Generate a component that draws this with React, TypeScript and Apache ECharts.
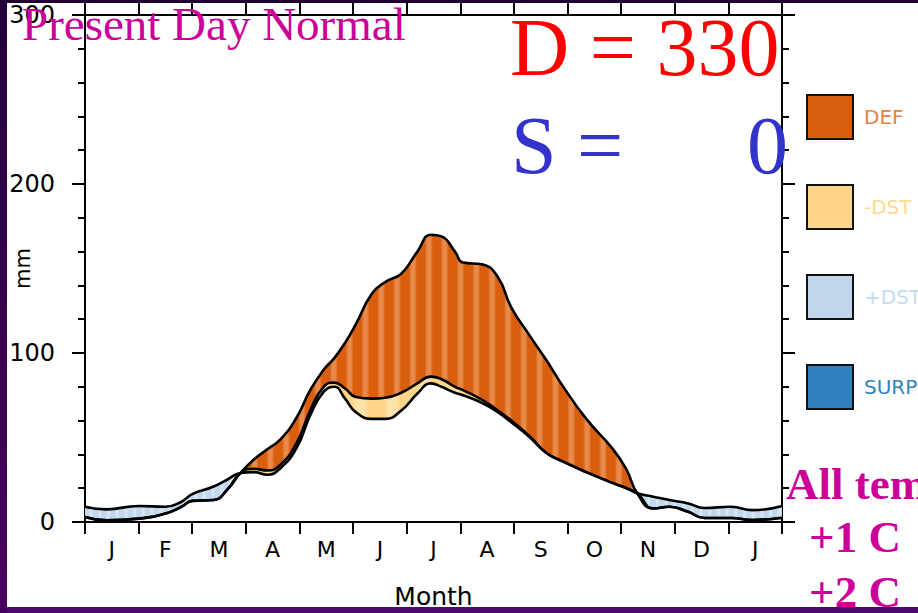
import React, { useEffect, useRef } from "react";
import * as echarts from "echarts";

// Month labels (13 months: Jan .. Jan)
const monthLabels = ["J", "F", "M", "A", "M", "J", "J", "A", "S", "O", "N", "D", "J"];

// Position along the x axis, in months from 1 January
const monthPos = [
  0, 0.4, 1, 1.5, 1.8, 2, 2.4, 2.65, 2.9,
  3.15, 3.4, 3.65, 3.95, 4.2, 4.45, 4.65, 4.85, 5.05,
  5.35, 5.6, 5.9, 6.2, 6.45, 6.65, 6.9, 7.05, 7.4,
  7.7, 7.95, 8.3, 8.6, 8.9, 9.35, 9.85, 10.1, 10.3,
  10.6, 10.9, 11.25, 11.55, 12.05, 12.45, 13,
];

// Precipitation (mm)
const precip = [
  9, 7.5, 9.5, 9, 12, 16.5, 21, 25, 29,
  29.5, 28, 32, 44, 63, 77, 80, 73, 65,
  61, 61, 66, 76, 82, 80, 76.5, 75, 70.5,
  65, 59, 50, 41, 36, 29.5, 23, 20, 17,
  15, 13, 11, 8.3, 9, 7, 9.5,
];

// Potential evapotranspiration (mm)
const pet = [
  3, 1, 2, 5, 9, 12.5, 13, 19, 29,
  37, 43, 49, 62, 78, 90, 97, 106, 117,
  135, 142, 147, 160, 170, 169, 160, 153.5, 152.5,
  145, 127, 110, 96, 81, 61, 43, 31, 17,
  8, 9, 6, 2.4, 2.4, 1.2, 2.5,
];

// Actual evapotranspiration (mm)
const aet = [
  3, 1, 2, 5, 9, 12.5, 13, 19, 29,
  31.5, 30.5, 34, 47, 66, 80, 82.5, 79, 74,
  73, 73.5, 76.5, 82, 86, 84.5, 80, 78, 72.4,
  66, 60, 50.5, 41, 36, 29.5, 23, 20, 17,
  8, 9, 6, 2.4, 2.4, 1.2, 2.5,
];

const legendNames = ["DEF", "-DST", "+DST", "SURP"];

function stripeStops(base: string, light: string, n: number) {
  const stops: { offset: number; color: string }[] = [];
  for (let i = 0; i < n; i++) {
    const a = i / n;
    const w = 1 / n;
    stops.push({ offset: a, color: base });
    stops.push({ offset: a + w * 0.45, color: base });
    stops.push({ offset: a + w * 0.6, color: light });
    stops.push({ offset: a + w * 0.8, color: light });
    stops.push({ offset: a + w * 0.95, color: base });
  }
  stops.push({ offset: 1, color: base });
  return stops;
}

export default function App() {
  const ref = useRef<HTMLDivElement>(null);

  useEffect(() => {
    if (!ref.current) return;
    const chart = echarts.init(ref.current, null, { renderer: "svg" });

    // data items are [value, month] so that stacking happens on the value (y) dimension
    const baseData = monthPos.map((t, i) => [Math.min(precip[i], pet[i]), t]);
    const yellowData = monthPos.map((t, i) => [Math.max(aet[i] - precip[i], 0), t]);
    const orangeData = monthPos.map((t, i) => [Math.max(pet[i] - aet[i], 0), t]);
    const blueData = monthPos.map((t, i) => [Math.max(precip[i] - pet[i], 0), t]);

    const common = {
      type: "line",
      smooth: 0.5,
      showSymbol: false,
      symbol: "none",
      silent: true,
      xAxisIndex: 0,
      yAxisIndex: 0,
      encode: { x: 1, y: 0 },
    };
    const hidden = { width: 0, opacity: 0 };
    const outline = { color: "#000", width: 2.6 };

    const axisLineStyle = { color: "#000", width: 2 };
    const sans = "DejaVu Sans";

    chart.setOption({
      animation: false,
      backgroundColor: "#fff",
      grid: { left: 85, right: 136, top: 15, bottom: 91, containLabel: false, outerBoundsMode: "none" },
      xAxis: [
        {
          type: "value",
          min: 0,
          max: 13,
          interval: 1,
          position: "bottom",
          axisLine: { show: true, onZero: false, lineStyle: axisLineStyle },
          axisTick: { show: true, length: 12, lineStyle: { color: "#000", width: 2 } },
          axisLabel: { show: false },
          splitLine: { show: false },
        },
        {
          type: "category",
          data: monthLabels,
          position: "bottom",
          boundaryGap: true,
          axisLine: { show: false, onZero: false },
          axisTick: { show: false },
          axisLabel: { color: "#000", fontSize: 22, fontFamily: sans, margin: 16 },
          splitLine: { show: false },
          name: "Month",
          nameLocation: "middle",
          nameGap: 62,
          nameMoveOverlap: false,
          nameTextStyle: { color: "#000", fontSize: 25, fontFamily: sans },
        },
        {
          type: "value",
          min: 0,
          max: 13,
          interval: 1,
          position: "top",
          axisLine: { show: true, onZero: false, lineStyle: axisLineStyle },
          axisTick: { show: true, length: 12, lineStyle: { color: "#000", width: 2 } },
          axisLabel: { show: false },
          splitLine: { show: false },
        },
      ],
      yAxis: [
        {
          type: "value",
          min: 0,
          max: 300,
          interval: 100,
          position: "left",
          axisLine: { show: true, onZero: false, lineStyle: axisLineStyle },
          axisTick: { show: true, length: 13, lineStyle: { color: "#000", width: 2 } },
          minorTick: { show: true, splitNumber: 5, length: 7, lineStyle: { color: "#000", width: 2 } },
          axisLabel: { color: "#000", fontSize: 24, fontFamily: sans, margin: 30 },
          splitLine: { show: false },
          minorSplitLine: { show: false },
          name: "mm",
          nameLocation: "middle",
          nameGap: 52,
          nameRotate: 90,
          nameMoveOverlap: false,
          nameTextStyle: { color: "#000", fontSize: 21, fontFamily: sans },
        },
        {
          type: "value",
          min: 0,
          max: 300,
          interval: 100,
          position: "right",
          axisLine: { show: true, onZero: false, lineStyle: axisLineStyle },
          axisTick: { show: true, length: 13, lineStyle: { color: "#000", width: 2 } },
          minorTick: { show: true, splitNumber: 5, length: 7, lineStyle: { color: "#000", width: 2 } },
          axisLabel: { show: false },
          splitLine: { show: false },
          minorSplitLine: { show: false },
        },
      ],
      legend: {
        orient: "vertical",
        left: 806,
        top: 94,
        padding: 0,
        itemWidth: 46,
        itemHeight: 44,
        itemGap: 44,
        icon: "rect",
        selectedMode: false,
        itemStyle: { borderColor: "#111", borderWidth: 2 },
        textStyle: { fontSize: 20, fontFamily: sans, padding: [0, 0, 0, 6] },
        data: [
          { name: legendNames[0], textStyle: { color: "#e6823e" } },
          { name: legendNames[1], textStyle: { color: "#fed98e" } },
          { name: legendNames[2], textStyle: { color: "#c6dbef" } },
          { name: legendNames[3], textStyle: { color: "#3182bd" } },
        ],
      },
      series: [
        { ...common, name: "base", stack: "wb", data: baseData, lineStyle: hidden },
        {
          ...common,
          name: legendNames[1],
          stack: "wb",
          data: yellowData,
          color: "#fdd68c",
          lineStyle: hidden,
          areaStyle: {
            opacity: 1,
            color: new echarts.graphic.LinearGradient(0, 0, 1, 0, stripeStops("#fdd68c", "#ffe3ab", 22)),
          },
        },
        {
          ...common,
          name: legendNames[0],
          stack: "wb",
          data: orangeData,
          color: "#d95f0e",
          lineStyle: hidden,
          areaStyle: {
            opacity: 1,
            color: new echarts.graphic.LinearGradient(0, 0, 1, 0, stripeStops("#d95f0e", "#e88a4b", 44)),
          },
        },
        {
          ...common,
          name: legendNames[2],
          stack: "wb",
          data: blueData,
          color: "#c0d7ec",
          lineStyle: hidden,
          areaStyle: {
            opacity: 1,
            color: new echarts.graphic.LinearGradient(0, 0, 1, 0, stripeStops("#c0d7ec", "#d6e6f4", 80)),
          },
        },
        { ...common, name: legendNames[3], data: [], color: "#2f80bd", lineStyle: hidden },
        { ...common, name: "P", data: monthPos.map((t, i) => [precip[i], t]), lineStyle: outline, z: 5 },
        { ...common, name: "PET", data: monthPos.map((t, i) => [pet[i], t]), lineStyle: outline, z: 5 },
        { ...common, name: "AET", data: monthPos.map((t, i) => [aet[i], t]), lineStyle: outline, z: 5 },
      ],
      graphic: [
        {
          type: "text",
          z: 100,
          x: 22,
          y: 24,
          style: {
            text: "Present Day Normal",
            fill: "#cc0099",
            font: '47px "Liberation Serif"',
            align: "left",
            verticalAlign: "middle",
          },
        },
        {
          type: "text",
          z: 100,
          x: 510,
          y: 47,
          style: {
            text: "D = 330",
            fill: "#ff0000",
            font: '82px "Liberation Serif"',
            align: "left",
            verticalAlign: "middle",
          },
        },
        {
          type: "text",
          z: 100,
          x: 511,
          y: 145,
          style: {
            text: "S =",
            fill: "#3333cc",
            font: '82px "Liberation Serif"',
            align: "left",
            verticalAlign: "middle",
          },
        },
        {
          type: "text",
          z: 100,
          x: 788,
          y: 145,
          style: {
            text: "0",
            fill: "#3333cc",
            font: '82px "Liberation Serif"',
            align: "right",
            verticalAlign: "middle",
          },
        },
        {
          type: "text",
          z: 100,
          x: 786,
          y: 484,
          style: {
            text: "All temp",
            fill: "#cc0099",
            font: 'bold 45px "Liberation Serif"',
            align: "left",
            verticalAlign: "middle",
          },
        },
        {
          type: "text",
          z: 100,
          x: 809,
          y: 537,
          style: {
            text: "+1 C",
            fill: "#cc0099",
            font: 'bold 45px "Liberation Serif"',
            align: "left",
            verticalAlign: "middle",
          },
        },
        {
          type: "text",
          z: 100,
          x: 809,
          y: 592,
          style: {
            text: "+2 C",
            fill: "#cc0099",
            font: 'bold 45px "Liberation Serif"',
            align: "left",
            verticalAlign: "middle",
          },
        },
        {
          type: "rect",
          z: 200,
          shape: { x: 0, y: 0, width: 918, height: 3 },
          style: { fill: "#22002f" },
        },
        {
          type: "rect",
          z: 200,
          shape: { x: 0, y: 607, width: 918, height: 6 },
          style: { fill: "#4a0a6c" },
        },
        {
          type: "rect",
          z: 200,
          shape: { x: 0, y: 0, width: 7, height: 613 },
          style: {
            fill: new echarts.graphic.LinearGradient(0, 0, 0, 1, [
              { offset: 0, color: "#24003a" },
              { offset: 1, color: "#48005f" },
            ]),
          },
        },
      ],
    });

    return () => {
      chart.dispose();
    };
  }, []);

  return (
    <div
      ref={ref}
      style={{ position: "fixed", left: 0, top: 0, width: 918, height: 613, background: "#fff" }}
    />
  );
}
